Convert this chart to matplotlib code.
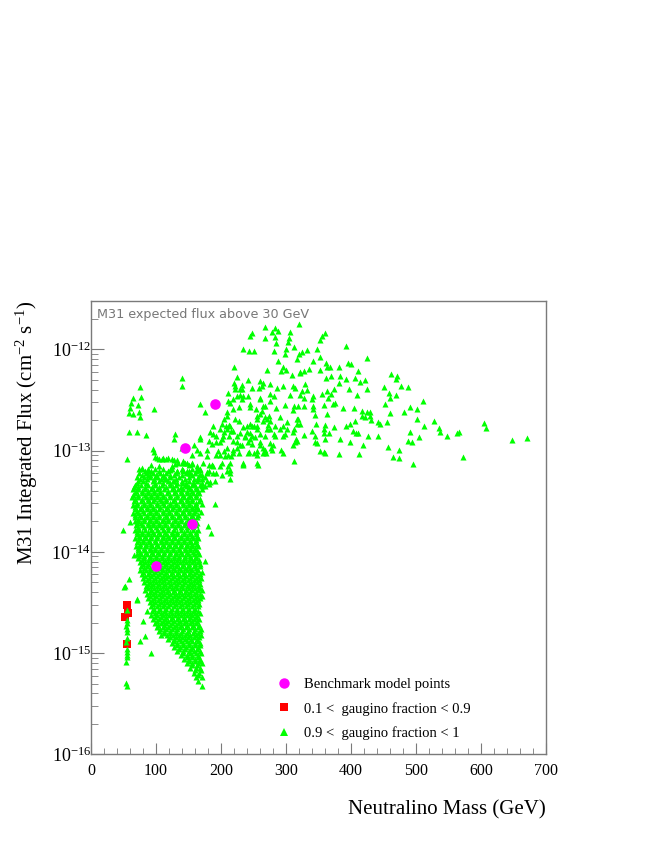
import numpy as np
import matplotlib
matplotlib.use("Agg")
import matplotlib.pyplot as plt
from matplotlib.ticker import LogLocator, MultipleLocator, FixedLocator, FixedFormatter
from matplotlib.lines import Line2D

# ---------------- data (mass in GeV, log10 of integrated flux) ----------------
benchmark_mass = [99.5, 145.0, 155.4, 190.3]
benchmark_flux = [7.2e-15, 1.05e-13, 1.9e-14, 2.9e-13]

mixed_mass = [55, 53, 57, 55]
mixed_logflux = [-14.53, -14.64, -14.60, -14.91]

# sparse, high-mass green points
upper_mass = [320, 267, 283, 288, 279, 248, 245, 268, 283, 306, 305, 303, 284, 360, 356, 352, 392, 312, 300, 298,
              282, 234, 243, 250, 332, 324, 320, 347, 352, 342, 361, 363, 288, 295, 300, 292, 321, 327, 336, 352,
              367, 381, 396, 400, 424, 411, 406, 393, 383, 381, 369, 361, 414, 421, 462, 470, 469, 477, 487, 450,
              458, 460, 469, 425, 409, 397, 374, 363, 365, 355, 342, 340, 328, 324, 329, 311, 306, 296, 286, 281,
              275, 270, 260, 263, 258, 242, 233, 229, 225, 220, 220, 222, 224, 229, 214, 218, 242, 245, 260, 268,
              285, 298, 312, 327, 342, 358, 373, 388, 376, 404, 417, 424, 429, 452, 460, 481, 491, 501, 510, 527,
              535, 537, 547, 563, 566, 605, 607, 648, 671, 573, 496, 474, 464, 457, 487, 494, 491, 513, 501, 445,
              442, 430, 429, 422, 417, 406, 393, 399, 403, 407, 411, 426, 419, 413, 399, 381, 383, 374, 366, 359,
              358, 346, 344, 345, 347, 352, 358, 360, 340, 327, 322, 317, 312, 311, 312, 317, 296, 293, 295, 283,
              280, 278, 272, 268, 265, 270, 268, 255, 256, 250, 245, 247, 245, 240, 242, 243, 237, 229, 227, 225,
              219, 219, 214, 213, 208, 209, 206, 203, 193, 196, 199, 234, 255, 265, 268, 275, 277, 260, 250, 219,
              216, 214, 211, 188, 183, 181, 175, 168, 140, 140, 97, 129, 128, 168, 158, 163,
              317, 309, 332, 322, 342, 345, 363, 369, 310, 317, 360, 360, 442, 455, 474, 504,
              234, 247, 211, 219, 209, 204, 198, 188, 201, 209, 224, 255, 260, 275, 281, 291, 299, 301,
              247, 255, 232, 178, 168, 186, 173, 163, 155, 150, 145, 168, 188, 199, 214, 234, 257, 181,
              101, 111, 119, 127, 134, 142, 150, 122, 132, 142, 163, 178, 186, 193, 201, 209, 214, 101,
              114, 127, 140, 147, 158, 170, 181, 191,
              209, 210, 221, 232, 232, 227, 245, 254, 260, 263, 265, 271, 274, 276, 283, 291, 296, 301,
              311, 314, 316, 319, 319, 314, 321, 275, 265, 260, 275, 255, 247, 240, 237, 245, 252, 260,
              265, 269, 256, 242, 234, 214, 201, 188, 181, 178, 193, 204, 211, 219, 227, 229, 199, 186,
              192, 204, 216, 224, 234, 201, 213, 222, 168, 155, 147, 142, 152, 168, 178, 140]
upper_logflux = [-11.75, -11.78, -11.79, -11.82, -11.83, -11.84, -11.87, -11.89, -11.88, -11.83, -11.89, -11.93,
                 -11.94, -11.84, -11.87, -11.91, -11.97, -11.98, -12.00, -12.05, -12.02, -12.00, -12.02, -12.02,
                 -12.01, -12.03, -12.05, -12.00, -12.08, -12.12, -12.14, -12.17, -12.12, -12.17, -12.20, -12.21,
                 -12.22, -12.21, -12.19, -12.20, -12.17, -12.17, -12.14, -12.15, -12.09, -12.21, -12.28, -12.29,
                 -12.26, -12.33, -12.26, -12.28, -12.32, -12.30, -12.24, -12.26, -12.29, -12.36, -12.37, -12.37,
                 -12.43, -12.48, -12.45, -12.39, -12.45, -12.39, -12.39, -12.41, -12.48, -12.44, -12.46, -12.49,
                 -12.48, -12.41, -12.34, -12.36, -12.45, -12.36, -12.38, -12.46, -12.44, -12.20, -12.31, -12.36,
                 -12.38, -12.30, -12.35, -12.39, -12.27, -12.17, -12.33, -12.36, -12.46, -12.45, -12.53, -12.49,
                 -12.46, -12.54, -12.49, -12.56, -12.58, -12.55, -12.56, -12.56, -12.56, -12.55, -12.54, -12.58,
                 -12.53, -12.58, -12.61, -12.62, -12.62, -12.54, -12.63, -12.62, -12.57, -12.59, -12.51, -12.71,
                 -12.78, -12.82, -12.86, -12.83, -12.82, -12.73, -12.78, -12.90, -12.88, -13.06, -13.13, -13.07,
                 -13.06, -12.96, -12.91, -12.92, -12.82, -12.76, -12.69, -12.74, -12.72, -12.70, -12.66, -12.67,
                 -12.66, -12.71, -12.76, -12.74, -12.81, -12.83, -12.83, -12.86, -12.95, -13.03, -12.92, -13.03,
                 -12.89, -12.77, -12.83, -12.83, -12.79, -12.74, -12.86, -12.92, -12.93, -13.00, -13.01, -13.02,
                 -12.81, -12.85, -12.74, -12.74, -12.79, -12.95, -13.10, -12.91, -12.86, -12.99, -13.02, -12.86,
                 -12.95, -12.99, -12.75, -12.67, -12.71, -12.79, -12.86, -12.66, -12.76, -12.76, -12.74, -12.86,
                 -12.83, -12.76, -12.92, -13.01, -12.86, -12.83, -12.71, -12.97, -12.81, -12.91, -12.76, -12.86,
                 -12.76, -12.97, -13.05, -12.86, -12.92, -13.00, -13.04, -13.12, -13.12, -13.02, -12.99, -12.93,
                 -12.97, -12.95, -13.02, -13.02, -13.05, -13.12, -13.15, -12.76, -12.82, -12.91, -12.62, -12.54,
                 -12.28, -12.36, -12.59, -12.84, -12.89, -12.89, -12.95, -12.99,
                 -12.10, -12.25, -12.40, -12.45, -12.59, -12.65, -12.64, -12.44, -12.60, -12.69, -12.75, -12.89,
                 -12.86, -12.72, -12.99, -12.87,
                 -12.46, -12.38, -12.43, -12.59, -12.62, -12.69, -12.79, -12.84, -12.89, -12.79, -12.92, -12.79,
                 -12.84, -12.79, -12.84, -12.79, -12.84, -12.72,
                 -12.94, -13.00, -12.95, -12.99, -13.02, -13.14, -13.12, -13.15, -13.12, -13.20, -13.12, -13.23,
                 -13.22, -13.15, -13.22, -13.14, -13.14, -13.20,
                 -13.07, -13.07, -13.07, -13.09, -13.12, -13.12, -13.14, -13.19, -13.20, -13.20, -13.19, -13.21,
                 -13.14, -13.22, -13.24, -13.20, -13.28, -13.25, -13.28, -13.30, -13.32, -13.35, -13.33, -13.35,
                 -13.33, -13.30,
                 -12.66, -12.51, -12.39, -12.49, -12.39, -12.57, -12.57, -12.59, -12.64, -12.61, -12.56, -12.69,
                 -12.66, -12.71, -12.76, -12.67, -12.76, -12.79, -12.82, -12.92, -12.89, -12.69, -12.56, -12.38,
                 -12.23, -12.34, -12.33, -12.48, -12.51, -12.69, -12.76, -12.82, -12.87, -12.89, -12.87, -12.92,
                 -12.97, -13.02, -13.04, -13.02, -13.13, -13.19, -13.12, -13.15, -13.14, -13.05, -13.04, -13.00,
                 -13.04, -12.99, -13.02, -12.95, -12.92, -12.94, -12.86, -12.82, -12.81, -12.86, -12.77, -12.74,
                 -12.75, -12.69, -12.87, -13.04, -13.12, -13.10, -13.22, -13.19, -13.22, -12.97]

# low-mass stray green points and the column near 55 GeV
left_mass = [76, 64, 77, 62, 73, 60, 58, 65, 74, 76, 58, 70, 85, 56, 95, 97, 74, 78, 88, 87,
             98, 104, 109, 115, 125, 132, 142, 155, 164, 93, 104, 124, 129, 142, 150, 165,
             55, 55, 54, 55, 55, 54, 55, 55, 54, 54, 55, 55, 55, 55, 55,
             51, 58, 70, 86, 80, 76, 83, 93, 60, 49, 66, 175, 52, 71,
             190, 171, 163, 169, 180, 184, 175, 183]
left_logflux = [-12.37, -12.48, -12.47, -12.53, -12.55, -12.58, -12.63, -12.64, -12.62, -12.67, -12.82, -12.82,
                -12.85, -13.08, -12.98, -13.01, -13.18, -13.17, -13.20, -13.24,
                -13.06, -13.08, -13.08, -13.08, -13.08, -13.09, -13.11, -13.13, -13.18, -13.14, -13.15, -13.15,
                -13.13, -13.19, -13.22, -13.28,
                -14.57, -14.67, -14.73, -14.79, -14.85, -14.89, -14.99, -15.04, -15.09, -15.30, -15.33, -14.70,
                -14.76, -14.96, -15.02,
                -14.35, -14.27, -14.48, -14.58, -14.68, -14.88, -14.83, -15.00, -13.71, -13.78, -14.03, -14.09,
                -14.34, -14.47,
                -13.53, -13.53, -13.56, -13.61, -13.75, -13.81, -13.35, -13.31]

# dense low-mass cluster: one row per flux level, masses along each row
cluster_logflux = [-13.18, -13.20, -13.22, -13.24, -13.26, -13.28, -13.30, -13.32, -13.34, -13.36, -13.38,
                   -13.40, -13.42, -13.44, -13.46, -13.48, -13.50, -13.52, -13.54, -13.56, -13.58, -13.60,
                   -13.62, -13.64, -13.66, -13.68, -13.70, -13.72, -13.74, -13.76, -13.78, -13.80, -13.82,
                   -13.84, -13.86, -13.88, -13.90, -13.92, -13.94, -13.96, -13.98, -14.00, -14.02, -14.04,
                   -14.06, -14.08, -14.10, -14.12, -14.14, -14.16, -14.18, -14.20, -14.22, -14.24, -14.26,
                   -14.28, -14.30, -14.32, -14.34, -14.36, -14.38, -14.40, -14.42, -14.44, -14.46, -14.48,
                   -14.50, -14.52, -14.54, -14.56, -14.58, -14.60, -14.62, -14.64, -14.66, -14.68, -14.70,
                   -14.72, -14.74, -14.76, -14.78, -14.80, -14.82, -14.84, -14.86, -14.88, -14.90, -14.92,
                   -14.94, -14.96, -14.98, -15.00, -15.02, -15.04, -15.06, -15.08, -15.10, -15.12, -15.15,
                   -15.17, -15.20, -15.22, -15.24, -15.28, -15.33]
cluster_masses = [
    [78, 88, 99, 110, 125, 140, 155, 168],
    [83, 93, 104, 118, 133, 148, 162],
    [74, 84, 95, 106, 116, 130, 146, 160],
    [79, 90, 100, 111, 121, 128, 140, 155, 170],
    [70, 81, 91, 102, 113, 122, 135, 150, 165, 175],
    [76, 86, 97, 108, 115, 130, 145, 158, 171],
    [72, 80, 95, 104, 118, 126, 140, 151, 163, 178],
    [70, 85, 99, 111, 122, 133, 146, 157, 170],
    [68, 77, 88, 99, 109, 121, 131, 145, 156, 168],
    [66, 73, 83, 94, 104, 115, 126, 138, 150, 162],
    [64, 73, 83, 92, 101, 112, 124, 134, 142, 152, 161, 170],
    [69, 78, 87, 97, 106, 118, 129, 138, 147, 156, 165],
    [68, 79, 88, 97, 106, 117, 128, 138, 147, 157, 166],
    [64, 73, 83, 92, 101, 111, 122, 133, 142, 152, 161],
    [63, 73, 84, 92, 102, 111, 121, 133, 143, 151, 162],
    [68, 78, 88, 97, 106, 116, 127, 138, 147, 156, 167],
    [66, 77, 87, 96, 107, 116, 126, 137, 147, 156, 166],
    [71, 81, 91, 101, 111, 121, 131, 142, 151, 161],
    [64, 71, 82, 91, 101, 112, 121, 131, 141, 151, 160],
    [68, 77, 86, 96, 106, 117, 126, 136, 146, 156, 162],
    [67, 76, 86, 96, 105, 116, 125, 136, 146, 155, 165],
    [71, 80, 90, 100, 110, 120, 130, 141, 150, 160],
    [65, 72, 81, 91, 100, 110, 120, 130, 140, 150, 159],
    [68, 76, 86, 95, 105, 115, 125, 135, 145, 155, 164],
    [68, 77, 86, 95, 105, 115, 124, 134, 145, 154, 163],
    [72, 81, 90, 100, 110, 119, 129, 139, 149, 158],
    [67, 73, 82, 91, 100, 109, 119, 129, 139, 149, 158],
    [70, 77, 87, 95, 104, 114, 124, 134, 144, 154, 163],
    [69, 78, 87, 96, 105, 114, 124, 134, 143, 153, 162],
    [73, 82, 91, 100, 109, 119, 129, 138, 148, 157],
    [67, 74, 83, 92, 101, 110, 119, 128, 138, 148, 157, 165],
    [71, 78, 87, 96, 105, 114, 124, 133, 143, 152, 161],
    [70, 79, 88, 97, 106, 115, 124, 133, 143, 152, 161],
    [74, 83, 92, 101, 110, 119, 128, 138, 147, 156, 163],
    [68, 75, 84, 93, 102, 111, 120, 129, 138, 147, 157, 164],
    [72, 80, 89, 98, 107, 116, 125, 134, 143, 152, 161],
    [71, 80, 89, 98, 107, 116, 125, 134, 143, 152, 160],
    [75, 84, 93, 102, 111, 120, 129, 138, 147, 156, 163],
    [69, 76, 85, 94, 103, 112, 121, 130, 139, 148, 156, 165],
    [73, 81, 90, 99, 108, 117, 126, 135, 144, 152, 160],
    [72, 81, 90, 99, 108, 117, 126, 135, 144, 153, 161],
    [76, 85, 94, 103, 112, 121, 130, 139, 148, 157, 164],
    [70, 77, 86, 95, 104, 113, 122, 131, 140, 149, 158, 166],
    [74, 82, 91, 100, 109, 118, 127, 136, 145, 153, 161],
    [73, 82, 91, 100, 109, 118, 127, 136, 145, 154, 162],
    [78, 87, 96, 105, 114, 123, 132, 141, 150, 158, 166],
    [75, 83, 92, 101, 110, 119, 128, 137, 146, 155, 164],
    [80, 88, 97, 106, 115, 124, 133, 142, 151, 160, 168],
    [77, 86, 95, 104, 113, 122, 131, 140, 149, 158, 167],
    [81, 90, 99, 108, 117, 126, 135, 144, 153, 162],
    [76, 84, 93, 102, 111, 120, 129, 138, 147, 156, 165],
    [80, 89, 98, 107, 116, 125, 134, 143, 152, 161, 170],
    [78, 87, 96, 105, 114, 123, 132, 141, 150, 159, 168],
    [83, 92, 101, 110, 119, 128, 137, 146, 155, 164],
    [80, 89, 98, 107, 116, 125, 134, 143, 152, 161, 169],
    [86, 95, 104, 113, 122, 131, 140, 149, 158, 166],
    [82, 91, 100, 109, 118, 127, 136, 145, 154, 163],
    [87, 96, 105, 114, 123, 132, 141, 150, 159, 168],
    [84, 93, 102, 111, 120, 129, 138, 147, 156, 165],
    [88, 97, 106, 115, 124, 133, 142, 151, 160, 168],
    [83, 92, 101, 110, 119, 128, 137, 146, 155, 164, 170],
    [90, 99, 108, 117, 126, 135, 144, 153, 162],
    [86, 95, 104, 113, 122, 131, 140, 149, 158, 167],
    [91, 100, 109, 118, 127, 136, 145, 154, 163, 170],
    [88, 97, 106, 115, 124, 133, 142, 151, 160, 168],
    [94, 103, 112, 121, 130, 139, 148, 157, 165],
    [90, 99, 108, 117, 126, 135, 144, 153, 162],
    [95, 104, 113, 122, 131, 140, 149, 158, 166],
    [92, 101, 110, 119, 128, 137, 146, 155, 164],
    [97, 106, 115, 124, 133, 142, 151, 160],
    [94, 103, 112, 121, 130, 139, 148, 157, 165],
    [98, 107, 116, 125, 134, 143, 152, 160, 167],
    [93, 102, 111, 120, 129, 138, 147, 156, 163],
    [98, 107, 116, 125, 134, 143, 152, 161],
    [96, 105, 114, 123, 132, 141, 150, 159, 166],
    [101, 110, 119, 128, 137, 146, 155, 163],
    [98, 107, 116, 125, 134, 143, 152, 161],
    [103, 112, 121, 130, 139, 148, 157, 166],
    [101, 110, 119, 128, 137, 146, 155, 164],
    [106, 115, 124, 133, 142, 151, 160, 169],
    [104, 113, 122, 131, 140, 149, 158, 167],
    [112, 121, 130, 139, 148, 157, 164],
    [108, 117, 126, 135, 144, 153, 162, 169],
    [122, 131, 140, 149, 158, 166],
    [118, 127, 136, 145, 154, 163],
    [128, 138, 147, 156, 164],
    [124, 133, 142, 151, 160, 167],
    [132, 141, 150, 160, 168],
    [128, 137, 146, 155, 164],
    [135, 145, 154, 163],
    [132, 141, 150, 159, 167],
    [142, 152, 161, 169],
    [138, 147, 156, 165],
    [147, 156, 164],
    [143, 151, 160, 168],
    [150, 160, 167],
    [147, 156, 164, 171],
    [155, 163],
    [152, 161, 168],
    [160, 169],
    [158, 166],
    [165],
    [162, 170],
    [165],
    [170],
]

x_ticks = [0, 100, 200, 300, 400, 500, 600, 700]
y_exponents = [-16, -15, -14, -13, -12]
legend_labels = ["Benchmark model points",
                 "0.1 <  gaugino fraction < 0.9",
                 "0.9 <  gaugino fraction < 1"]

# ---------------- assemble green series ----------------
green_mass = list(upper_mass) + list(left_mass)
green_log = list(upper_logflux) + list(left_logflux)
for lf, row in zip(cluster_logflux, cluster_masses):
    green_mass.extend(row)
    green_log.extend([lf] * len(row))
green_flux = 10.0 ** np.array(green_log)
mixed_flux = 10.0 ** np.array(mixed_logflux)

# ---------------- figure ----------------
plt.rcParams['mathtext.fontset'] = 'custom'
plt.rcParams['mathtext.rm'] = 'Liberation Serif'
plt.rcParams['mathtext.it'] = 'Liberation Serif:italic'
plt.rcParams['mathtext.bf'] = 'Liberation Serif:bold'
serif = 'Liberation Serif'

fig = plt.figure(figsize=(6.54, 8.46), dpi=100)
ax = fig.add_axes([91 / 654, 1 - 754.3 / 846, 455 / 654, 453.6 / 846])

GREEN = '#00ff00'
MAGENTA = '#ff00ff'
RED = '#ff0000'

ax.scatter(mixed_mass, mixed_flux, marker='s', s=26, color=RED, linewidths=0, zorder=2)
ax.scatter(green_mass, green_flux, marker='^', s=19, color=GREEN, linewidths=0, zorder=3)
ax.scatter(benchmark_mass, benchmark_flux, marker='o', s=58, color=MAGENTA, linewidths=0, zorder=4)

ax.set_yscale('log')
ax.set_xlim(0, 700)
ax.set_ylim(1e-16, 10 ** -11.52)

ax.xaxis.set_major_locator(FixedLocator(x_ticks))
ax.xaxis.set_minor_locator(MultipleLocator(20))
ax.set_xticklabels([str(t) for t in x_ticks], fontfamily=serif, fontsize=11.5)

ax.yaxis.set_major_locator(FixedLocator([10.0 ** e for e in y_exponents]))
ax.yaxis.set_major_formatter(FixedFormatter(['$10^{%d}$' % e for e in y_exponents]))
ax.yaxis.set_minor_locator(LogLocator(base=10, subs=np.arange(2, 10)))
ax.yaxis.set_minor_formatter(plt.NullFormatter())
for lab in ax.get_yticklabels():
    lab.set_fontsize(13)

spine_col = '#7a7a7a'
for sp in ax.spines.values():
    sp.set_color(spine_col)
    sp.set_linewidth(1.0)
ax.tick_params(which='both', direction='in', color=spine_col, top=False, right=False)
ax.tick_params(axis='x', which='major', length=8, pad=6.5)
ax.tick_params(axis='x', which='minor', length=4)
ax.tick_params(axis='y', which='major', length=9, pad=0)
ax.tick_params(axis='y', which='minor', length=5)

ax.set_xlabel('Neutralino Mass (GeV)', fontfamily=serif, fontsize=15, loc='right', labelpad=15)
ax.set_ylabel('M31 Integrated Flux (cm$^{-2}$ s$^{-1}$)', fontfamily=serif, fontsize=15,
              loc='top', labelpad=8)

ax.text(0.013, 0.985, 'M31 expected flux above 30 GeV', transform=ax.transAxes,
        ha='left', va='top', fontsize=9.2, color='#777777', fontfamily='DejaVu Sans')

handles = [Line2D([], [], marker='o', linestyle='none', color=MAGENTA, markersize=7.5, markeredgewidth=0),
           Line2D([], [], marker='s', linestyle='none', color=RED, markersize=5.5, markeredgewidth=0),
           Line2D([], [], marker='^', linestyle='none', color=GREEN, markersize=6, markeredgewidth=0)]
leg = ax.legend(handles, legend_labels, loc='upper left', bbox_to_anchor=(0.395, 0.182),
                frameon=False, prop={'family': serif, 'size': 10.5}, handlelength=1.0,
                handletextpad=0.9, labelspacing=0.75, borderaxespad=0)

fig.savefig('out.png', dpi=100)
